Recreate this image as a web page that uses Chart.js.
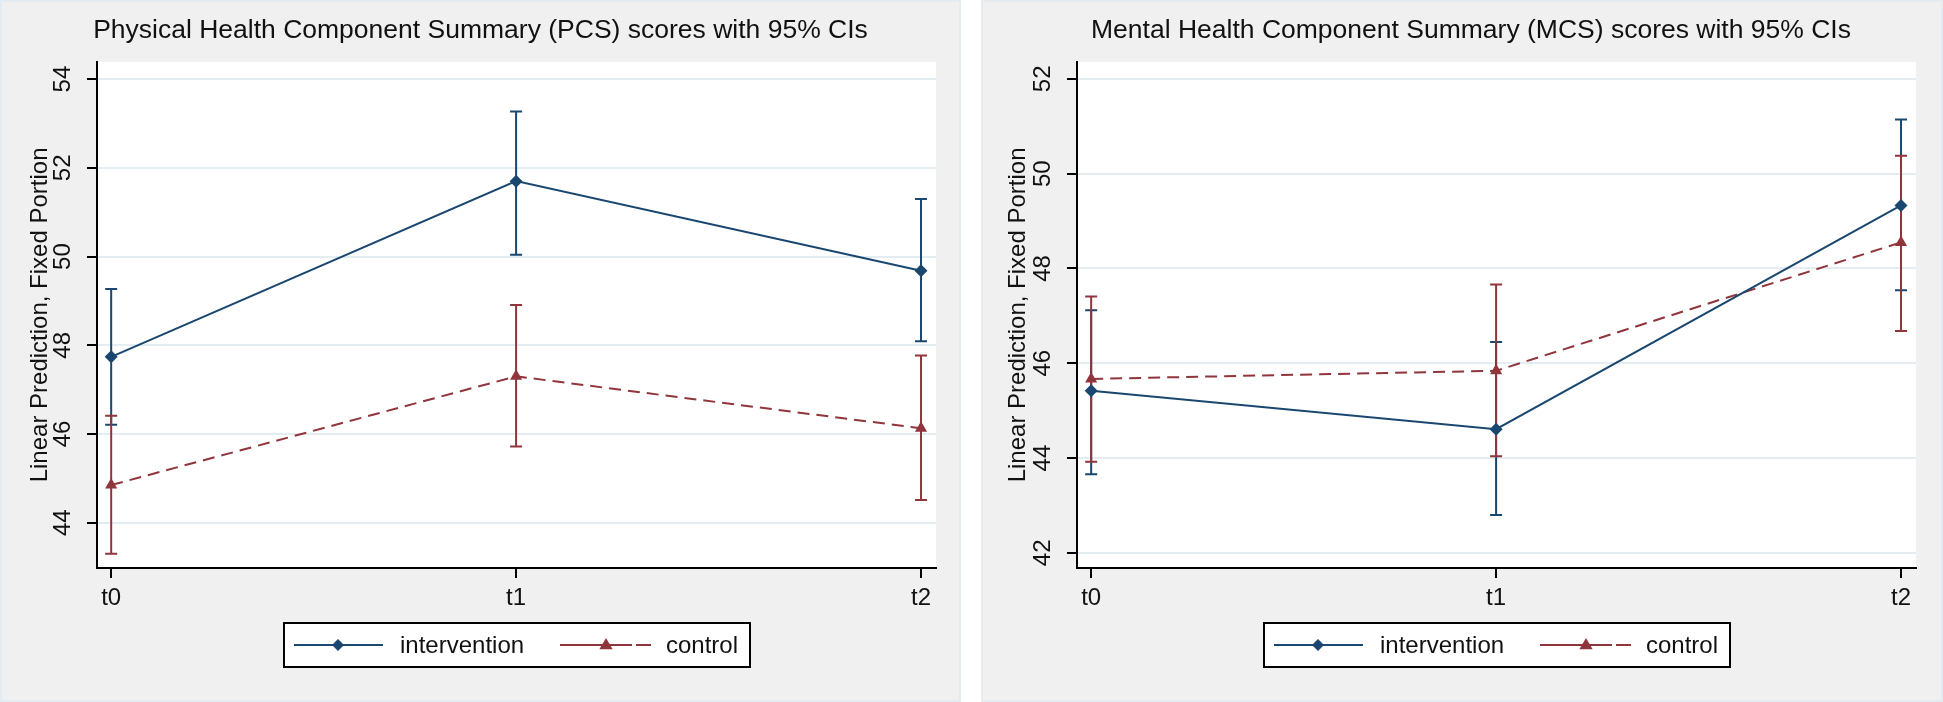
<!DOCTYPE html>
<html><head><meta charset="utf-8">
<script src="https://cdn.jsdelivr.net/npm/chart.js@4.4.1/dist/chart.umd.min.js"></script>
<style>
html,body{margin:0;padding:0;background:#fff;width:1943px;height:702px;overflow:hidden;}
.panel{position:absolute;top:0;height:702px;background:#f0f0f0;box-shadow:inset 0 0 0 2px #e4ecf1;}
canvas{position:absolute;top:0;left:0;}
</style></head><body>
<div class="panel" style="left:0;width:961px"><canvas id="c1" width="961" height="702"></canvas></div>
<div class="panel" style="left:981px;width:962px"><canvas id="c2" width="962" height="702"></canvas></div>
<script>
// ---- data ----
const timepoints = ['t0', 't1', 't2'];
const seriesNames = ['intervention', 'control'];

const pcsTitle = 'Physical Health Component Summary (PCS) scores with 95% CIs';
const pcsIntervention     = [47.74, 51.70, 49.68];
const pcsInterventionLow  = [46.21, 50.04, 48.09];
const pcsInterventionHigh = [49.27, 53.27, 51.30];
const pcsControl          = [44.85, 47.30, 46.13];
const pcsControlLow       = [43.30, 45.72, 44.51];
const pcsControlHigh      = [46.41, 48.91, 47.77];
const pcsTicks = [44, 46, 48, 50, 52, 54];

const mcsTitle = 'Mental Health Component Summary (MCS) scores with 95% CIs';
const mcsIntervention     = [45.42, 44.61, 49.33];
const mcsInterventionLow  = [43.66, 42.80, 47.54];
const mcsInterventionHigh = [47.12, 46.45, 51.14];
const mcsControl          = [45.67, 45.84, 48.55];
const mcsControlLow       = [43.92, 44.04, 46.68];
const mcsControlHigh      = [47.41, 47.66, 50.38];
const mcsTicks = [42, 44, 46, 48, 50, 52];

const yTitle = 'Linear Prediction, Fixed Portion';

// ---- styling ----
const FONT = "'Liberation Sans', Arial, sans-serif";
const NAVY = '#1a476f';
const MAROON = '#90353b';
const TEXT = '#111';
Chart.defaults.font.family = FONT;

const toXY = arr => arr.map((v, i) => ({x: i, y: v}));

const plotBg = {
  id: 'plotBg',
  beforeDraw(chart) {
    const a = chart.chartArea, ctx = chart.ctx;
    ctx.save(); ctx.fillStyle = '#fff';
    ctx.fillRect(a.left, a.top, a.right - a.left, a.bottom - a.top);
    ctx.restore();
  }
};

const errorBars = {
  id: 'errorBars',
  beforeDatasetsDraw(chart) {
    const ctx = chart.ctx, xs = chart.scales.x, ys = chart.scales.y;
    ctx.save();
    chart.data.datasets.forEach(ds => {
      ctx.strokeStyle = ds.borderColor; ctx.lineWidth = 2; ctx.setLineDash([]);
      ds.errLow.forEach((lo, i) => {
        const hi = ds.errHigh[i];
        const x = xs.getPixelForValue(i);
        const y1 = ys.getPixelForValue(lo), y2 = ys.getPixelForValue(hi);
        ctx.beginPath();
        ctx.moveTo(x, y1); ctx.lineTo(x, y2);
        ctx.moveTo(x - 6, y1); ctx.lineTo(x + 6, y1);
        ctx.moveTo(x - 6, y2); ctx.lineTo(x + 6, y2);
        ctx.stroke();
      });
    });
    ctx.restore();
  }
};

function diamond(ctx, x, y, r, c) {
  ctx.beginPath(); ctx.moveTo(x, y - r); ctx.lineTo(x + r, y); ctx.lineTo(x, y + r); ctx.lineTo(x - r, y); ctx.closePath();
  ctx.fillStyle = c; ctx.fill();
}
function triangle(ctx, x, y, r, c) {
  ctx.beginPath(); ctx.moveTo(x, y - r); ctx.lineTo(x + r * 0.95, y + r * 0.6); ctx.lineTo(x - r * 0.95, y + r * 0.6); ctx.closePath();
  ctx.fillStyle = c; ctx.fill();
}

const boxLegend = {
  id: 'boxLegend',
  afterDraw(chart) {
    const ctx = chart.ctx, a = chart.chartArea;
    const w = 466, h = 44;
    const left = Math.round((a.left + a.right) / 2 - w / 2), top = 623, cy = top + h / 2;
    ctx.save();
    ctx.fillStyle = '#fff'; ctx.fillRect(left, top, w, h);
    ctx.strokeStyle = '#000'; ctx.lineWidth = 2; ctx.strokeRect(left, top, w, h);
    // intervention
    ctx.strokeStyle = NAVY; ctx.lineWidth = 2;
    ctx.beginPath(); ctx.moveTo(left + 10, cy); ctx.lineTo(left + 99, cy); ctx.stroke();
    diamond(ctx, left + 54, cy, 6, NAVY);
    // control
    ctx.strokeStyle = MAROON;
    ctx.beginPath();
    ctx.moveTo(left + 276, cy); ctx.lineTo(left + 304, cy);
    ctx.moveTo(left + 334, cy); ctx.lineTo(left + 348, cy);
    ctx.moveTo(left + 352, cy); ctx.lineTo(left + 367, cy);
    ctx.stroke();
    ctx.beginPath(); ctx.moveTo(left + 304, cy); ctx.lineTo(left + 334, cy); ctx.stroke();
    triangle(ctx, left + 322, cy, 7, MAROON);
    ctx.fillStyle = TEXT; ctx.font = '24px ' + FONT; ctx.textBaseline = 'middle'; ctx.textAlign = 'left';
    ctx.fillText(seriesNames[0], left + 116, cy + 1);
    ctx.fillText(seriesNames[1], left + 382, cy + 1);
    ctx.restore();
  }
};

function makeChart(id, title, iv, ivLo, ivHi, ct, ctLo, ctHi, ticks, yMin, yMax, padLeft, yWidth, padRight, yTitlePad) {
  return new Chart(document.getElementById(id), {
    type: 'line',
    data: {
      datasets: [
        {label: seriesNames[0], data: toXY(iv), errLow: ivLo, errHigh: ivHi,
         borderColor: NAVY, backgroundColor: NAVY, borderWidth: 2,
         pointStyle: 'rectRot', pointRadius: 6.5, pointBorderWidth: 0, tension: 0},
        {label: seriesNames[1], data: toXY(ct), errLow: ctLo, errHigh: ctHi,
         borderColor: MAROON, backgroundColor: MAROON, borderWidth: 2, borderDash: [12, 7],
         pointStyle: 'triangle', pointRadius: 7, pointBorderWidth: 0, tension: 0}
      ]
    },
    options: {
      responsive: false, animation: false, events: [],
      layout: {padding: {left: padLeft, right: padRight, top: 0, bottom: 0}},
      plugins: {
        legend: {display: false}, tooltip: {enabled: false},
        title: {display: true, text: title, color: TEXT,
                font: {size: 26.5, weight: 'normal'}, padding: {top: 15, bottom: 15}}
      },
      scales: {
        x: {
          type: 'linear', min: -0.035, max: 2.037,
          afterBuildTicks: s => { s.ticks = timepoints.map((t, i) => ({value: i})); },
          afterFit: s => { s.height = 134; },
          ticks: {callback: v => timepoints[v], color: TEXT, font: {size: 24}, padding: 6,
                  autoSkip: false, maxRotation: 0, minRotation: 0},
          grid: {drawOnChartArea: false, drawTicks: true, tickLength: 10, tickColor: '#000', tickWidth: 2, lineWidth: 2},
          border: {display: true, color: '#000', width: 2}
        },
        y: {
          type: 'linear', min: yMin, max: yMax,
          afterBuildTicks: s => { s.ticks = ticks.map(v => ({value: v})); },
          afterFit: s => { s.width = yWidth; },
          ticks: {color: TEXT, font: {size: 24}, padding: 10, minRotation: 90, maxRotation: 90, crossAlign: 'center'},
          grid: {color: '#e4edf2', lineWidth: 2, drawTicks: true, tickLength: 10, tickColor: '#000', tickWidth: 2},
          border: {display: true, color: '#000', width: 2},
          title: {display: true, text: yTitle, color: TEXT, font: {size: 24}, padding: {top: yTitlePad, bottom: 0}}
        }
      }
    },
    plugins: [plotBg, errorBars, boxLegend]
  });
}

makeChart('c1', pcsTitle, pcsIntervention, pcsInterventionLow, pcsInterventionHigh,
          pcsControl, pcsControlLow, pcsControlHigh, pcsTicks, 42.98, 54.39, 25, 72, 25, 1);
makeChart('c2', mcsTitle, mcsIntervention, mcsInterventionLow, mcsInterventionHigh,
          mcsControl, mcsControlLow, mcsControlHigh, mcsTicks, 41.68, 52.36, 45, 51, 27, -22);
</script>
</body></html>
